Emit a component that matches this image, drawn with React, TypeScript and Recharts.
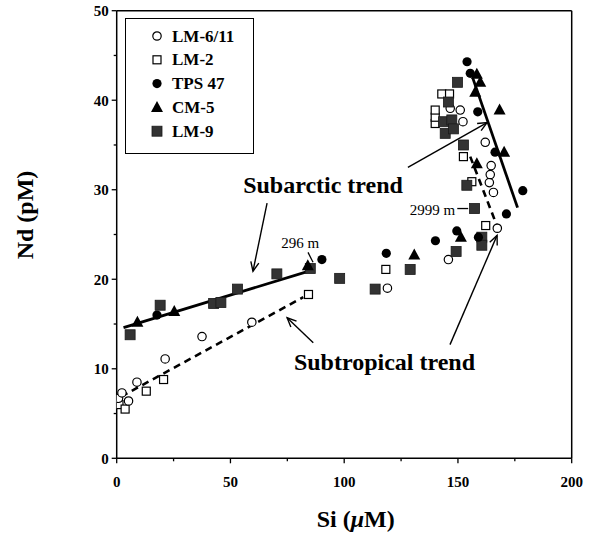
import React from 'react';
import { ComposedChart, Scatter, XAxis, YAxis, ReferenceLine, ReferenceDot, Legend } from 'recharts';

type P = { x: number; y: number };

// ---- data (Si µM, Nd pM) ----
const lm611: P[] = [
  { x: 0.8, y: 6.7 }, { x: 2.3, y: 7.3 }, { x: 5.2, y: 6.4 }, { x: 8.9, y: 8.5 },
  { x: 21.3, y: 11.1 }, { x: 37.5, y: 13.6 }, { x: 59.4, y: 15.2 }, { x: 119, y: 19.0 },
  { x: 145.8, y: 22.2 }, { x: 167.3, y: 25.7 }, { x: 165.6, y: 29.7 }, { x: 163.8, y: 30.8 },
  { x: 164.2, y: 31.7 }, { x: 164.6, y: 32.7 }, { x: 162, y: 35.3 }, { x: 152.2, y: 37.6 },
  { x: 151, y: 38.9 }, { x: 146.6, y: 39.1 },
];
const lm2: P[] = [
  { x: 1, y: 6.0 }, { x: 3.7, y: 5.5 }, { x: 13, y: 7.5 }, { x: 20.6, y: 8.8 },
  { x: 84.3, y: 18.3 }, { x: 118.3, y: 21.1 }, { x: 162.2, y: 26.0 }, { x: 156.1, y: 30.9 },
  { x: 152.4, y: 33.7 }, { x: 140, y: 37.4 }, { x: 140, y: 38.1 }, { x: 140, y: 38.9 },
  { x: 142.9, y: 40.7 }, { x: 146.3, y: 40.7 },
];
const tps47: P[] = [
  { x: 17.7, y: 16.0 }, { x: 90.2, y: 22.2 }, { x: 118.5, y: 22.9 }, { x: 140.1, y: 24.3 },
  { x: 149.5, y: 25.4 }, { x: 159, y: 24.7 }, { x: 171.3, y: 27.3 }, { x: 178.5, y: 29.9 },
  { x: 166.3, y: 34.2 }, { x: 158.7, y: 38.7 }, { x: 155.4, y: 43.0 }, { x: 154, y: 44.3 },
];
const cm5: P[] = [
  { x: 9.1, y: 15.2 }, { x: 25.3, y: 16.4 }, { x: 84, y: 21.5 }, { x: 130.8, y: 22.7 },
  { x: 151.3, y: 24.7 }, { x: 158.3, y: 32.9 }, { x: 170.3, y: 34.2 }, { x: 168.3, y: 38.9 },
  { x: 157.6, y: 40.9 }, { x: 159.8, y: 42.0 }, { x: 158.3, y: 42.9 },
];
const lm9: P[] = [
  { x: 5.9, y: 13.8 }, { x: 19.1, y: 17.1 }, { x: 42.6, y: 17.3 }, { x: 45.8, y: 17.4 },
  { x: 53.1, y: 18.9 }, { x: 70.4, y: 20.6 }, { x: 85.1, y: 21.2 }, { x: 98, y: 20.1 },
  { x: 113.6, y: 18.9 }, { x: 129, y: 21.1 }, { x: 149.2, y: 23.1 }, { x: 160.5, y: 24.7 },
  { x: 160.5, y: 23.8 }, { x: 157.3, y: 27.9 }, { x: 153.9, y: 30.5 }, { x: 152.4, y: 35.0 },
  { x: 144.4, y: 36.3 }, { x: 143.7, y: 37.6 }, { x: 147.3, y: 37.8 }, { x: 148, y: 36.8 },
  { x: 145.8, y: 39.8 }, { x: 149.8, y: 42.0 },
];
const seriesNames = ['LM-6/11', 'LM-2', 'TPS 47', 'CM-5', 'LM-9'];

// trend lines
const subarcticShallow: P[] = [{ x: 3, y: 14.6 }, { x: 87, y: 21.1 }];
const subtropicalShallow: P[] = [{ x: 2, y: 6.9 }, { x: 82, y: 18.0 }];
const subarcticDeep: P[] = [{ x: 156.5, y: 42.5 }, { x: 176.2, y: 28.0 }];
const subtropicalDeep: P[] = [{ x: 155.4, y: 33.7 }, { x: 167.4, y: 25.8 }];

// annotation arrows (tail -> head)
const arrows: P[][] = [
  [{ x: 66.1, y: 28.5 }, { x: 59.9, y: 20.9 }],
  [{ x: 128.0, y: 32.5 }, { x: 162.8, y: 37.5 }],
  [{ x: 86.4, y: 12.9 }, { x: 74.9, y: 15.7 }],
  [{ x: 146.5, y: 12.7 }, { x: 167.2, y: 24.9 }],
];
const leaders: P[][] = [
  [{ x: 84.1, y: 23.0 }, { x: 86.3, y: 21.9 }],
  [{ x: 149.7, y: 27.9 }, { x: 154.5, y: 27.9 }],
];
const bigLabels = [
  { text: 'Subarctic trend', x: 90.7, y: 29.6 },
  { text: 'Subtropical trend', x: 117.7, y: 9.9 },
];
const depthLabels = [
  { text: '296 m', x: 80.7, y: 23.5 },
  { text: '2999 m', x: 138.8, y: 27.2 },
];

const xTicks = [0, 25, 50, 75, 100, 125, 150, 175, 200];
const yTicks = [0, 5, 10, 15, 20, 25, 30, 35, 40, 45, 50];

const FONT = '"Liberation Serif", "Times New Roman", serif';

// ---- marker shapes ----
const OpenCircle = (p: any) => <circle cx={p.cx} cy={p.cy} r={4.2} fill="#fff" stroke="#000" strokeWidth={1.2} />;
const OpenSquare = (p: any) => <rect x={p.cx - 4} y={p.cy - 4} width={8} height={8} fill="#fff" stroke="#000" strokeWidth={1.2} />;
const FilledCircle = (p: any) => <circle cx={p.cx} cy={p.cy} r={4.6} fill="#000" />;
const Triangle = (p: any) => (
  <polygon points={`${p.cx},${p.cy - 6.5} ${p.cx - 6},${p.cy + 4.5} ${p.cx + 6},${p.cy + 4.5}`} fill="#000" />
);
const DarkSquare = (p: any) => (
  <rect x={p.cx - 5} y={p.cy - 5} width={10} height={10} fill="#333" stroke="#1a1a1a" strokeWidth={0.8} />
);
const shapes = [OpenCircle, OpenSquare, FilledCircle, Triangle, DarkSquare];

// ---- ticks ----
const XTick = (props: any) => {
  const { x, y, payload } = props;
  const v = payload.value;
  const major = v % 50 === 0;
  return (
    <g>
      <line x1={x} x2={x} y1={y} y2={y + (major ? 5 : 3)} stroke="#000" strokeWidth={1.3} />
      {major && (
        <text x={x} y={y + 29} textAnchor="middle" fontFamily={FONT} fontWeight="bold" fontSize={15} fill="#000">
          {v}
        </text>
      )}
    </g>
  );
};
const YTick = (props: any) => {
  const { x, y, payload } = props;
  const v = payload.value;
  const major = v % 10 === 0;
  return (
    <g>
      <line x1={x} x2={x - (major ? 5 : 3)} y1={y} y2={y} stroke="#000" strokeWidth={1.3} />
      {major && (
        <text x={x - 8} y={y + 5.5} textAnchor="end" fontFamily={FONT} fontWeight="bold" fontSize={15} fill="#000">
          {v}
        </text>
      )}
    </g>
  );
};

const ArrowShape = (p: any) => {
  const { x1, y1, x2, y2 } = p;
  const ang = Math.atan2(y2 - y1, x2 - x1);
  const L = 10;
  const a1 = ang + Math.PI - 0.42;
  const a2 = ang + Math.PI + 0.42;
  return (
    <g>
      <line x1={x1} y1={y1} x2={x2} y2={y2} stroke="#000" strokeWidth={1.4} />
      <polyline
        points={`${x2 + L * Math.cos(a1)},${y2 + L * Math.sin(a1)} ${x2},${y2} ${x2 + L * Math.cos(a2)},${y2 + L * Math.sin(a2)}`}
        fill="none"
        stroke="#000"
        strokeWidth={1.4}
      />
    </g>
  );
};

const LegendBox = () => (
  <div style={{ width: 129, height: 136, border: '1.5px solid #000', boxSizing: 'border-box', background: '#fff' }}>
    <svg width={126} height={133} style={{ display: 'block' }}>
      {seriesNames.map((n, i) => {
        const S = shapes[i];
        const cy = 17 + i * 23.8;
        return (
          <g key={n}>
            <S cx={31} cy={cy} />
            <text x={46} y={cy + 5.5} fontFamily={FONT} fontWeight="bold" fontSize={17} fill="#000">
              {n}
            </text>
          </g>
        );
      })}
    </svg>
  </div>
);

const XLabel = (props: any) => {
  const vb = props.viewBox || {};
  return (
    <text x={vb.x + 239} y={vb.y + 69} textAnchor="middle" fontFamily={FONT} fontWeight="bold" fontSize={24} fill="#000">
      <tspan>Si (</tspan>
      <tspan fontStyle="italic">μ</tspan>
      <tspan>M)</tspan>
    </text>
  );
};
const YLabel = () => (
  <text x={33} y={215} transform="rotate(-90, 33, 215)" textAnchor="middle" fontFamily={FONT} fontWeight="bold" fontSize={24} fill="#000">
    Nd (pM)
  </text>
);

const allSeries = [lm2, lm611, lm9, tps47, cm5];
const allShapes = [OpenSquare, OpenCircle, DarkSquare, FilledCircle, Triangle];
const allNames = ['LM-2', 'LM-6/11', 'LM-9', 'TPS 47', 'CM-5'];

export default function App() {
  return (
    <div style={{ position: 'absolute', left: 0, top: 0, width: 590, height: 536, background: '#fff', overflow: 'hidden' }}>
      <ComposedChart width={590} height={536} margin={{ top: 10.7, right: 18.3, left: 56.7, bottom: 47.7 }}>
        <XAxis
          type="number"
          dataKey="x"
          domain={[0, 200]}
          ticks={xTicks}
          interval={0}
          tickSize={0}
          tickMargin={0}
          tick={<XTick />}
          axisLine={{ stroke: '#000', strokeWidth: 1.5 }}
          tickLine={false}
          height={30}
          allowDataOverflow
          label={<XLabel />}
        />
        <YAxis
          type="number"
          dataKey="y"
          domain={[0, 50]}
          ticks={yTicks}
          interval={0}
          tickSize={0}
          tickMargin={0}
          tick={<YTick />}
          axisLine={{ stroke: '#000', strokeWidth: 1.5 }}
          tickLine={false}
          width={60}
          allowDataOverflow
          label={<YLabel />}
        />
        <ReferenceLine y={50} stroke="#000" strokeWidth={1.5} ifOverflow="visible" />
        <ReferenceLine x={200} stroke="#000" strokeWidth={1.5} ifOverflow="visible" />
        {allSeries.map((d, i) => {
          const S = allShapes[i];
          return (
            <Scatter key={allNames[i]} name={allNames[i]} data={d} isAnimationActive={false} shape={(p: any) => <S cx={p.cx} cy={p.cy} />} />
          );
        })}
        <ReferenceLine segment={subarcticShallow} stroke="#000" strokeWidth={2.8} ifOverflow="visible" />
        <ReferenceLine segment={subarcticDeep} stroke="#000" strokeWidth={2.8} ifOverflow="visible" />
        <ReferenceLine segment={subtropicalShallow} stroke="#000" strokeWidth={2.6} strokeDasharray="7 5" ifOverflow="visible" />
        <ReferenceLine segment={subtropicalDeep} stroke="#000" strokeWidth={2.6} strokeDasharray="7 5" ifOverflow="visible" />
        {arrows.map((a, i) => (
          <ReferenceLine key={'arr' + i} segment={a} ifOverflow="visible" shape={(p: any) => <ArrowShape {...p} />} />
        ))}
        {leaders.map((a, i) => (
          <ReferenceLine key={'ld' + i} segment={a} stroke="#000" strokeWidth={1.3} ifOverflow="visible" />
        ))}
        {bigLabels.map((l) => (
          <ReferenceDot
            key={l.text}
            x={l.x}
            y={l.y}
            r={1}
            ifOverflow="visible"
            shape={(p: any) => (
              <text x={p.cx} y={p.cy} textAnchor="middle" fontFamily={FONT} fontWeight="bold" fontSize={24} fill="#000">
                {l.text}
              </text>
            )}
          />
        ))}
        {depthLabels.map((l) => (
          <ReferenceDot
            key={l.text}
            x={l.x}
            y={l.y}
            r={1}
            ifOverflow="visible"
            shape={(p: any) => (
              <text x={p.cx} y={p.cy} textAnchor="middle" fontFamily={FONT} fontSize={15} fill="#000">
                {l.text}
              </text>
            )}
          />
        ))}
        <Legend
          layout="vertical"
          align="center"
          verticalAlign="middle"
          content={() => <LegendBox />}
          wrapperStyle={{ position: 'absolute', left: 125, top: 18, width: 129, height: 136 }}
        />
      </ComposedChart>
    </div>
  );
}
